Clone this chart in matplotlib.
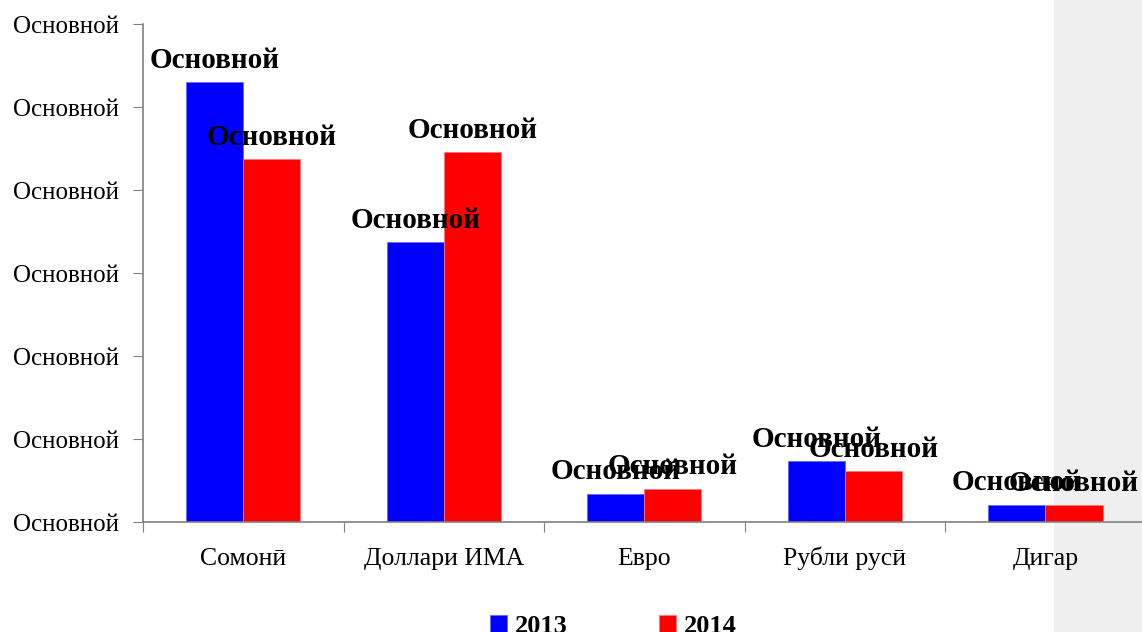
import numpy as np
import matplotlib.pyplot as plt
from matplotlib.patches import Rectangle
from matplotlib.ticker import FuncFormatter

# currency structure, two years side by side
categories = ['Сомонӣ', 'Доллари ИМА', 'Евро', 'Рубли русӣ', 'Дигар']
years = ['2013', '2014']
values_2013 = [53.0, 33.7, 3.4, 7.3, 2.1]
values_2014 = [43.7, 44.6, 4.0, 6.1, 2.0]
label_text = 'Основной'

plt.rcParams['font.family'] = ['Liberation Serif', 'DejaVu Serif']

fig = plt.figure(figsize=(11.42, 6.32), dpi=100)
# grey strip on the right edge
fig.patches.append(Rectangle((1054 / 1142, 0), 1, 1, transform=fig.transFigure,
                             facecolor='#efefef', edgecolor='none', zorder=0))

ax = fig.add_axes([0.1252, 0.174, 0.878, 0.788])
ax.set_facecolor('none')
ax.set_zorder(2)

x = np.arange(len(categories))
w = 0.285
b1 = ax.bar(x - w / 2, values_2013, w, color='#0000ff', edgecolor='#6666ff', linewidth=0.6, label=years[0])
b2 = ax.bar(x + w / 2, values_2014, w, color='#ff0000', edgecolor='#ff7777', linewidth=0.6, label=years[1])

for bars in (b1, b2):
    for rect in bars:
        ax.annotate(label_text, (rect.get_x() + rect.get_width() / 2, rect.get_height()),
                    xytext=(0, 6), textcoords='offset points', ha='center', va='bottom',
                    fontsize=21, fontweight='bold', annotation_clip=False)

ax.set_xlim(-0.5, len(categories) - 0.5)
ax.set_ylim(0, 60)
ax.set_yticks(np.arange(0, 61, 10))
ax.yaxis.set_major_formatter(FuncFormatter(lambda v, p: label_text))
ax.tick_params(axis='y', labelsize=18, length=7, color='#808080', pad=10)

ax.set_xticks(np.arange(len(categories) + 1) - 0.5, minor=False)
ax.set_xticklabels([])
ax.set_xticks(x, minor=True)
ax.set_xticklabels(categories, minor=True, fontsize=18.5)
for lbl in ax.get_xticklabels(minor=True):
    lbl.set_verticalalignment('baseline')
ax.tick_params(axis='x', which='major', length=7, color='#808080')
ax.tick_params(axis='x', which='minor', length=0, pad=31)

for s in ('top', 'right'):
    ax.spines[s].set_visible(False)
for s in ('left', 'bottom'):
    ax.spines[s].set_color('#808080')
    ax.spines[s].set_linewidth(1.2)

fig.legend(handles=[b1, b2], labels=years, loc='center', bbox_to_anchor=(0.537, 0.008),
           ncol=2, frameon=False, handlelength=0.65, handleheight=0.65, handletextpad=0.3,
           columnspacing=3.45, prop={'size': 19, 'weight': 'bold'})

fig.savefig('out.png', dpi=100)
